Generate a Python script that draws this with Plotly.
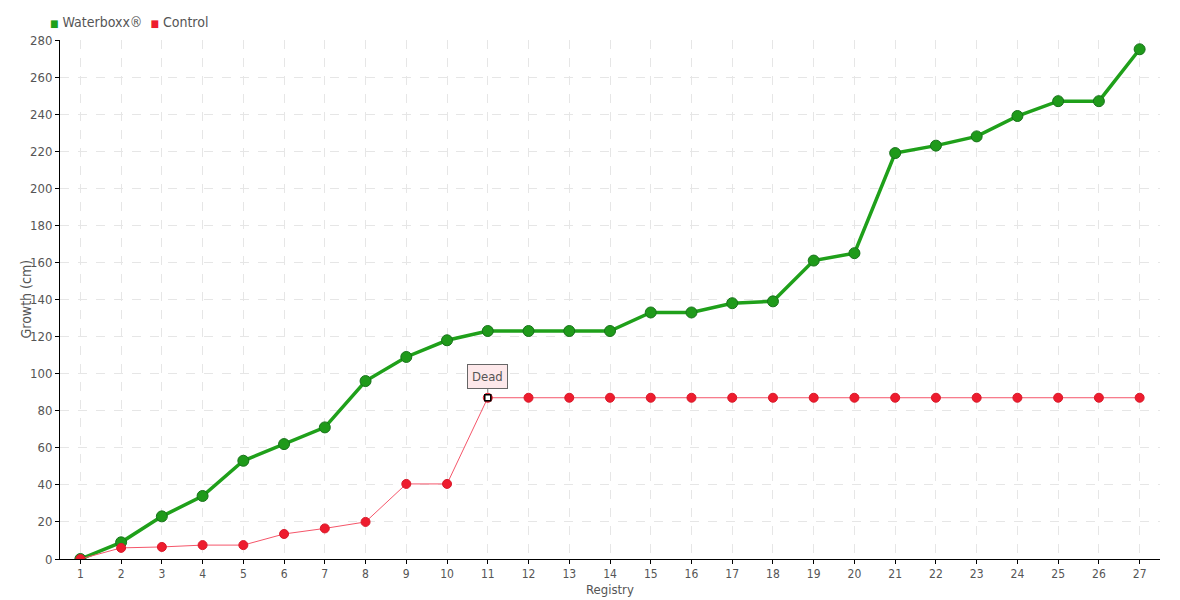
import plotly.graph_objects as go

registry = list(range(1, 28))
waterboxx = [0, 9, 23, 34, 53, 62, 71, 96, 109, 118, 123, 123, 123, 123, 133, 133,
             138, 139, 161, 165, 219, 223, 228, 239, 247, 247, 275]
control = [0, 6, 6.5, 7.5, 7.5, 13.5, 16.5, 20, 40.5, 40.5, 87, 87, 87, 87, 87, 87,
           87, 87, 87, 87, 87, 87, 87, 87, 87, 87, 87]
series_names = ["Waterboxx®", "Control"]
x_title = "Registry"
y_title = "Growth (cm)"
dead_index = 10

FONT = "DejaVu Sans Condensed, Liberation Sans Narrow, sans-serif"
GREEN = "#1fa01a"
RED = "#ee1c2e"
TXT = "#555"

fig = go.Figure()
fig.add_trace(go.Scatter(
    x=registry, y=waterboxx, name=series_names[0], mode="lines+markers", showlegend=False,
    line=dict(color=GREEN, width=3.5),
    marker=dict(size=11, color="#1f9a1a", line=dict(color="#17731a", width=1)),
))
fig.add_trace(go.Scatter(
    x=registry, y=control, name=series_names[1], mode="lines+markers", showlegend=False,
    line=dict(color="#f5566a", width=1),
    marker=dict(size=9, color=RED, line=dict(color="#d81a2a", width=1)),
))
fig.add_trace(go.Scatter(
    x=[registry[dead_index]], y=[control[dead_index]], mode="markers",
    showlegend=False, hoverinfo="skip",
    marker=dict(size=6, color="white", symbol="square", line=dict(color="black", width=1.5)),
))

# legend drawn as text with coloured squares
legend_text = (f"<span style='color:{GREEN};font-size:10px'>■</span> {series_names[0]}  "
               f"<span style='color:{RED};font-size:10px'>■</span> {series_names[1]}")
fig.add_annotation(
    xref="paper", yref="paper", x=-12 / 1100, y=1 + 18 / 519,
    xanchor="left", yanchor="middle", showarrow=False, text=legend_text,
    font=dict(family=FONT, size=14, color=TXT),
)

# axis titles
fig.add_annotation(xref="paper", yref="paper", x=0.5, y=-30 / 519, yanchor="middle",
                   showarrow=False, text=x_title, font=dict(family=FONT, size=13, color=TXT))
fig.add_annotation(xref="paper", yref="paper", x=-35 / 1100, y=0.5, xanchor="center",
                   textangle=-90, showarrow=False, text=y_title,
                   font=dict(family=FONT, size=14, color=TXT))

fig.add_annotation(
    x=registry[dead_index], y=control[dead_index], text="Dead",
    showarrow=True, arrowhead=0, arrowwidth=1, arrowcolor="#777",
    ax=0, ay=-21, standoff=5,
    bgcolor="#fde8ea", bordercolor="#666", borderwidth=1, borderpad=4,
    font=dict(family=FONT, size=13, color=TXT),
)

axis_common = dict(
    showgrid=True, gridcolor="#e6e6e6", griddash="dash", gridwidth=1,
    ticks="outside", ticklen=4, tickcolor="black",
    showline=True, linecolor="black", linewidth=1,
    zeroline=False,
)

fig.update_layout(
    width=1180, height=600,
    margin=dict(l=60, r=20, t=40, b=41, autoexpand=False),
    plot_bgcolor="white", paper_bgcolor="white",
    font=dict(family=FONT, color=TXT),
    showlegend=False,
    xaxis=dict(range=[0.5, 27.5], tickmode="array", tickvals=registry,
               tickfont=dict(family=FONT, size=12, color=TXT), **axis_common),
    yaxis=dict(range=[0, 280], dtick=20,
               tickfont=dict(family=FONT, size=13, color=TXT), **axis_common),
)

fig.write_html("out.html", post_script="document.body.style.margin='0';",
               config={"displayModeBar": False})
